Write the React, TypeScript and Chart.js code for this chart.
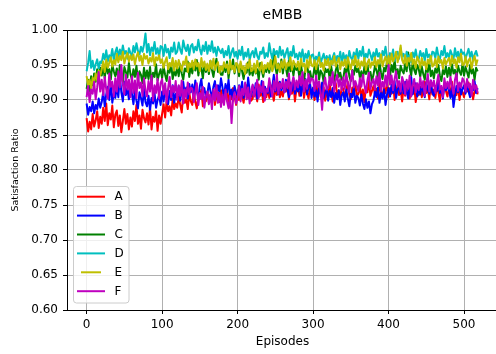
import React, { useEffect, useRef } from "react";
import { Chart, registerables } from "chart.js";

Chart.register(...registerables);

// Satisfaction ratio per slice, sampled every EPISODE_STEP episodes (values in thousandths).
const EPISODE_STEP = 2;

const SERIES_A = [
  874, 855, 869, 858, 880, 862, 871, 884, 860, 876,
  866, 889, 870, 895, 864, 881, 872, 892, 861, 879,
  885, 863, 878, 854, 870, 887, 866, 880, 858, 875,
  862, 884, 870, 893, 866, 878, 859, 886, 874, 868,
  881, 865, 889, 858, 876, 869, 884, 856, 878, 866,
  880, 894, 875, 899, 884, 891, 878, 902, 887, 895,
  889, 905, 893, 882, 908, 896, 901, 887, 910, 898,
  893, 911, 897, 888, 906, 902, 915, 891, 904, 898,
  912, 896, 908, 899, 916, 893, 905, 911, 897, 914,
  898, 913, 904, 920, 895, 909, 901, 917, 906, 893,
  914, 900, 918, 905, 896, 912, 921, 903, 910, 899,
  902, 917, 909, 898, 922, 906, 913, 897, 919, 904,
  916, 903, 921, 911, 899, 918, 907, 925, 904, 913,
  905, 920, 912, 928, 901, 915, 909, 923, 898, 916,
  919, 906, 914, 925, 903, 917, 910, 902, 921, 908,
  915, 900, 920, 909, 926, 905, 913, 918, 899, 911,
  907, 922, 911, 898, 917, 924, 906, 914, 902, 919,
  916, 904, 912, 926, 908, 901, 918, 910, 923, 905,
  909, 921, 903, 915, 897, 919, 911, 927, 906, 913,
  920, 908, 916, 902, 924, 912, 905, 918, 910, 926,
  904, 917, 909, 925, 900, 914, 921, 907, 915, 898,
  918, 906, 913, 923, 902, 916, 909, 920, 897, 912,
  907, 919, 904, 914, 926, 910, 917, 901, 922, 908,
  915, 903, 920, 911, 898, 918, 906, 924, 913, 905,
  917, 909, 926, 902, 914, 907, 921, 900, 915, 911,
  904, 919, 912, 925, 906, 916, 901, 913, 920, 908,
];

const SERIES_B = [
  895, 879, 890, 884, 898, 881, 893, 887, 902, 889,
  897, 912, 891, 908, 919, 900, 925, 896, 910, 903,
  920, 904, 934, 911, 898, 926, 907, 917, 901, 922,
  909, 894, 915, 899, 888, 911, 903, 892, 916, 897,
  891, 906, 886, 903, 895, 910, 889, 900, 907, 893,
  912, 898, 917, 903, 894, 913, 900, 921, 896, 909,
  905, 920, 899, 915, 926, 908, 918, 902, 923, 911,
  922, 907, 928, 913, 903, 920, 930, 909, 917, 904,
  909, 924, 913, 901, 919, 927, 906, 921, 912, 931,
  918, 903, 923, 911, 929, 906, 915, 899, 920, 910,
  907, 921, 912, 926, 903, 917, 909, 932, 913, 905,
  920, 908, 924, 902, 916, 911, 927, 906, 919, 913,
  910, 925, 905, 919, 936, 912, 921, 908, 926, 914,
  923, 911, 929, 915, 904, 925, 913, 931, 909, 920,
  912, 926, 906, 921, 915, 930, 908, 919, 924, 903,
  918, 905, 914, 898, 920, 909, 925, 903, 911, 916,
  899, 913, 904, 917, 896, 910, 901, 914, 893, 907,
  911, 898, 915, 902, 891, 909, 904, 918, 896, 906,
  903, 892, 908, 895, 887, 901, 889, 898, 881, 894,
  899, 912, 904, 918, 896, 910, 902, 915, 893, 908,
  917, 905, 922, 910, 927, 903, 915, 920, 909, 924,
  910, 926, 913, 902, 921, 933, 908, 918, 924, 905,
  919, 908, 922, 912, 904, 925, 915, 909, 928, 911,
  906, 920, 913, 927, 910, 917, 902, 923, 914, 919,
  915, 903, 918, 890, 906, 920, 911, 924, 908, 916,
  921, 909, 925, 912, 904, 919, 914, 927, 910, 917,
];

const SERIES_C = [
  916, 929, 912, 934, 921, 938, 926, 944, 930, 946,
  935, 948, 931, 952, 938, 944, 929, 950, 941, 934,
  945, 930, 950, 936, 926, 947, 940, 932, 953, 937,
  929, 944, 933, 949, 927, 941, 936, 924, 946, 931,
  942, 930, 947, 925, 939, 933, 951, 928, 937, 944,
  931, 948, 936, 927, 945, 939, 952, 930, 941, 935,
  947, 934, 951, 938, 929, 945, 941, 955, 933, 948,
  938, 953, 942, 957, 935, 949, 945, 931, 952, 940,
  950, 937, 956, 943, 933, 948, 959, 940, 946, 936,
  936, 951, 940, 955, 931, 947, 944, 958, 938, 949,
  948, 934, 952, 941, 930, 946, 939, 954, 936, 945,
  935, 950, 938, 944, 929, 953, 942, 933, 947, 940,
  951, 939, 956, 943, 967, 947, 936, 952, 941, 958,
  938, 953, 946, 934, 957, 941, 949, 935, 951, 943,
  946, 932, 949, 938, 927, 944, 953, 935, 941, 930,
  933, 947, 936, 951, 929, 942, 938, 926, 945, 940,
  944, 931, 948, 935, 927, 942, 950, 933, 939, 929,
  931, 945, 938, 952, 934, 927, 943, 936, 949, 940,
  945, 932, 941, 929, 948, 937, 952, 934, 940, 927,
  936, 949, 942, 933, 953, 939, 930, 946, 941, 955,
  947, 935, 950, 940, 958, 936, 944, 931, 949, 942,
  938, 952, 941, 968, 946, 935, 954, 943, 937, 950,
  944, 933, 948, 937, 929, 946, 940, 953, 934, 942,
  931, 945, 939, 950, 935, 927, 943, 937, 948, 933,
  946, 934, 951, 938, 943, 930, 949, 941, 936, 952,
  935, 947, 940, 932, 950, 938, 944, 929, 946, 941,
];

const SERIES_D = [
  941, 953, 970, 946, 956, 943, 951, 958, 945, 955,
  953, 966, 958, 971, 955, 964, 960, 973, 957, 968,
  975, 961, 972, 964, 978, 966, 970, 959, 974, 967,
  963, 977, 968, 981, 970, 965, 976, 969, 979, 995,
  968, 980, 964, 975, 970, 983, 966, 974, 961, 977,
  976, 963, 979, 968, 973, 960, 975, 969, 982, 966,
  969, 982, 972, 966, 985, 975, 970, 979, 964, 977,
  980, 968, 976, 971, 986, 973, 965, 978, 970, 983,
  966, 978, 970, 984, 968, 975, 963, 976, 971, 967,
  973, 961, 970, 964, 977, 960, 968, 974, 962, 969,
  959, 971, 964, 976, 958, 968, 962, 973, 957, 966,
  970, 961, 974, 963, 958, 969, 966, 975, 960, 967,
  962, 981, 968, 959, 973, 965, 970, 961, 976, 964,
  971, 960, 967, 974, 958, 969, 963, 977, 961, 966,
  958, 968, 961, 972, 955, 966, 960, 970, 956, 964,
  965, 954, 962, 957, 968, 952, 960, 966, 955, 963,
  956, 964, 951, 961, 967, 955, 963, 958, 969, 953,
  967, 958, 964, 955, 970, 961, 957, 968, 960, 973,
  959, 970, 963, 976, 958, 966, 961, 972, 965, 957,
  968, 960, 973, 962, 967, 955, 970, 964, 976, 961,
  958, 967, 961, 972, 956, 965, 969, 959, 974, 962,
  966, 957, 969, 960, 964, 954, 968, 961, 972, 958,
  959, 970, 962, 967, 956, 973, 961, 965, 958, 969,
  968, 960, 975, 963, 958, 970, 964, 977, 961, 967,
  960, 971, 965, 958, 974, 962, 969, 957, 972, 966,
  968, 959, 966, 973, 961, 969, 957, 965, 970, 962,
];

const SERIES_E = [
  934, 921, 929, 917, 932, 925, 938, 928, 942, 935,
  944, 955, 940, 958, 946, 953, 961, 948, 957, 951,
  966, 954, 963, 957, 969, 952, 961, 967, 955, 964,
  957, 965, 951, 962, 968, 956, 963, 950, 966, 959,
  963, 952, 960, 955, 967, 949, 961, 957, 964, 953,
  958, 946, 955, 961, 944, 953, 948, 960, 942, 956,
  945, 957, 949, 942, 955, 951, 962, 940, 953, 947,
  956, 944, 958, 948, 953, 941, 960, 947, 955, 943,
  952, 941, 956, 945, 959, 943, 950, 954, 939, 948,
  942, 954, 946, 951, 938, 957, 944, 949, 940, 953,
  951, 940, 955, 944, 948, 937, 952, 945, 958, 941,
  943, 952, 939, 956, 947, 942, 954, 938, 950, 945,
  953, 944, 957, 941, 950, 962, 945, 951, 940, 955,
  946, 958, 944, 953, 949, 961, 943, 956, 951, 947,
  955, 943, 959, 948, 952, 940, 957, 946, 962, 949,
  948, 957, 944, 955, 961, 947, 953, 942, 958, 950,
  959, 945, 956, 951, 963, 948, 954, 960, 944, 955,
  949, 958, 946, 961, 952, 944, 957, 950, 963, 947,
  957, 945, 955, 949, 960, 943, 953, 958, 946, 954,
  950, 961, 947, 957, 952, 965, 948, 956, 962, 951,
  963, 951, 966, 955, 960, 969, 954, 962, 978, 957,
  952, 964, 949, 960, 955, 967, 951, 958, 946, 962,
  957, 946, 960, 950, 955, 944, 958, 952, 963, 948,
  950, 959, 947, 962, 953, 957, 945, 960, 951, 956,
  960, 949, 963, 952, 958, 946, 961, 954, 966, 950,
  951, 962, 948, 957, 960, 945, 956, 963, 950, 958,
];

const SERIES_F = [
  904, 920, 897, 915, 909, 926, 901, 918, 940, 912,
  929, 907, 933, 915, 902, 938, 919, 926, 905, 931,
  912, 941, 918, 950, 922, 908, 936, 915, 929, 904,
  934, 910, 928, 903, 939, 917, 925, 906, 931, 914,
  905, 927, 912, 935, 899, 921, 910, 930, 902, 924,
  930, 908, 924, 896, 917, 933, 904, 920, 911, 927,
  900, 921, 906, 928, 895, 915, 903, 925, 908, 918,
  916, 897, 912, 924, 893, 910, 901, 919, 889, 906,
  912, 894, 908, 887, 915, 899, 921, 896, 910, 890,
  908, 893, 915, 898, 888, 906, 867, 902, 911, 895,
  903, 920, 898, 916, 907, 925, 901, 918, 895, 913,
  922, 905, 917, 929, 903, 920, 911, 926, 899, 916,
  912, 931, 918, 905, 927, 914, 936, 909, 924, 917,
  930, 911, 926, 917, 938, 908, 923, 933, 915, 928,
  918, 934, 921, 940, 912, 929, 916, 937, 924, 931,
  929, 913, 935, 918, 926, 910, 886, 921, 932, 915,
  917, 933, 921, 940, 912, 928, 936, 919, 930, 914,
  932, 916, 938, 924, 911, 929, 942, 918, 927, 920,
  913, 931, 919, 936, 922, 910, 928, 939, 916, 925,
  930, 915, 934, 921, 939, 913, 926, 918, 935, 920,
  950, 922, 935, 914, 930, 941, 919, 927, 912, 933,
  925, 908, 929, 916, 935, 905, 921, 930, 911, 924,
  914, 932, 918, 927, 906, 923, 937, 912, 928, 919,
  928, 910, 924, 936, 915, 920, 904, 931, 917, 926,
  916, 933, 920, 909, 929, 938, 913, 925, 918, 931,
  927, 912, 930, 918, 923, 906, 929, 915, 921, 910,
];

const SERIES_LABELS = ["A", "B", "C", "D", "E", "F"];
const SERIES_COLORS = ["#ff0000", "#0000ff", "#008000", "#00bfbf", "#bfbf00", "#bf00bf"];
const SERIES_VALUES = [SERIES_A, SERIES_B, SERIES_C, SERIES_D, SERIES_E, SERIES_F];

const X_TICKS = [0, 100, 200, 300, 400, 500];
const Y_TICKS = [0.6, 0.65, 0.7, 0.75, 0.8, 0.85, 0.9, 0.95, 1.0];

const TITLE = "eMBB";
const X_TITLE = "Episodes";
const Y_TITLE = "Satisfaction Ratio";

const FONT = "'DejaVu Sans', sans-serif";

const decorations = {
  id: "decorations",
  afterDraw(chart: any) {
    const { ctx, chartArea } = chart;
    const { left, right, top, bottom } = chartArea;
    ctx.save();

    // top spine
    ctx.strokeStyle = "#000";
    ctx.lineWidth = 1;
    ctx.beginPath();
    ctx.moveTo(Math.floor(left) + 0.5, Math.floor(top) + 0.5);
    ctx.lineTo(Math.floor(right) + 0.5, Math.floor(top) + 0.5);
    ctx.stroke();

    const cx = (left + right) / 2;
    ctx.fillStyle = "#000";
    ctx.textAlign = "center";
    ctx.textBaseline = "middle";
    ctx.font = `14px ${FONT}`;
    ctx.fillText(TITLE, cx, 15);

    ctx.font = `12px ${FONT}`;
    ctx.fillText(X_TITLE, cx, 342);

    ctx.save();
    ctx.translate(16, (top + bottom) / 2);
    ctx.rotate(-Math.PI / 2);
    ctx.font = `9.5px ${FONT}`;
    ctx.fillText(Y_TITLE, 0, 0);
    ctx.restore();

    // legend
    const bx = 73.5, by = 186.5, bw = 55.5, bh = 116.5, r = 3;
    ctx.beginPath();
    ctx.moveTo(bx + r, by);
    ctx.lineTo(bx + bw - r, by);
    ctx.arcTo(bx + bw, by, bx + bw, by + r, r);
    ctx.lineTo(bx + bw, by + bh - r);
    ctx.arcTo(bx + bw, by + bh, bx + bw - r, by + bh, r);
    ctx.lineTo(bx + r, by + bh);
    ctx.arcTo(bx, by + bh, bx, by + bh - r, r);
    ctx.lineTo(bx, by + r);
    ctx.arcTo(bx, by, bx + r, by, r);
    ctx.closePath();
    ctx.fillStyle = "rgba(255,255,255,0.8)";
    ctx.fill();
    ctx.strokeStyle = "#cccccc";
    ctx.stroke();

    ctx.textAlign = "left";
    ctx.font = `12px ${FONT}`;
    SERIES_LABELS.forEach((label, i) => {
      const y = 196.7 + i * 18.9;
      const short = label === "E";
      ctx.strokeStyle = SERIES_COLORS[i];
      ctx.lineWidth = 2;
      ctx.beginPath();
      ctx.moveTo(short ? 81 : 77, y);
      ctx.lineTo(short ? 101 : 105, y);
      ctx.stroke();
      ctx.fillStyle = "#000";
      ctx.fillText(label, 114.5, y + 0.5);
    });

    ctx.restore();
  },
};

export default function App() {
  const canvasRef = useRef<HTMLCanvasElement | null>(null);

  useEffect(() => {
    const canvas = canvasRef.current;
    if (!canvas) return;

    const datasets = SERIES_VALUES.map((values, i) => ({
      label: SERIES_LABELS[i],
      data: values.map((v, k) => ({ x: k * EPISODE_STEP, y: v / 1000 })),
      borderColor: SERIES_COLORS[i],
      backgroundColor: SERIES_COLORS[i],
      borderWidth: 2,
      borderJoinStyle: "round" as const,
      pointRadius: 0,
      tension: 0,
      fill: false,
      order: SERIES_VALUES.length - i,
    }));

    const chart = new Chart(canvas, {
      type: "line",
      data: { datasets },
      options: {
        animation: false,
        responsive: false,
        devicePixelRatio: 1,
        layout: { padding: { left: 0, top: 30, right: 6, bottom: 0 } },
        plugins: {
          legend: { display: false },
          title: { display: false },
          tooltip: { enabled: false },
        },
        scales: {
          x: {
            type: "linear",
            min: -26,
            max: 545,
            afterBuildTicks: (axis: any) => {
              axis.ticks = X_TICKS.map((v) => ({ value: v }));
            },
            afterFit: (axis: any) => {
              axis.height = 44;
            },
            ticks: {
              color: "#000",
              font: { family: FONT, size: 12 },
              padding: 4,
              maxRotation: 0,
              callback: (v: any) => String(v),
            },
            grid: {
              color: "#b0b0b0",
              lineWidth: 1,
              tickLength: 4,
              tickColor: "#000",
            },
            border: { color: "#000", width: 1 },
          },
          y: {
            type: "linear",
            min: 0.6,
            max: 1.0,
            afterBuildTicks: (axis: any) => {
              axis.ticks = Y_TICKS.map((v) => ({ value: v }));
            },
            afterFit: (axis: any) => {
              axis.width = 67;
            },
            ticks: {
              color: "#000",
              font: { family: FONT, size: 12 },
              padding: 5,
              callback: (v: any) => Number(v).toFixed(2),
            },
            grid: {
              color: "#b0b0b0",
              lineWidth: 1,
              tickLength: 4,
              tickColor: "#000",
            },
            border: { color: "#000", width: 1 },
          },
        },
      },
      plugins: [decorations],
    });

    return () => chart.destroy();
  }, []);

  return (
    <div
      style={{
        position: "fixed",
        left: 0,
        top: 0,
        width: 496,
        height: 354,
        overflow: "hidden",
        background: "#fff",
      }}
    >
      <canvas ref={canvasRef} width={504} height={354} style={{ display: "block" }} />
    </div>
  );
}
